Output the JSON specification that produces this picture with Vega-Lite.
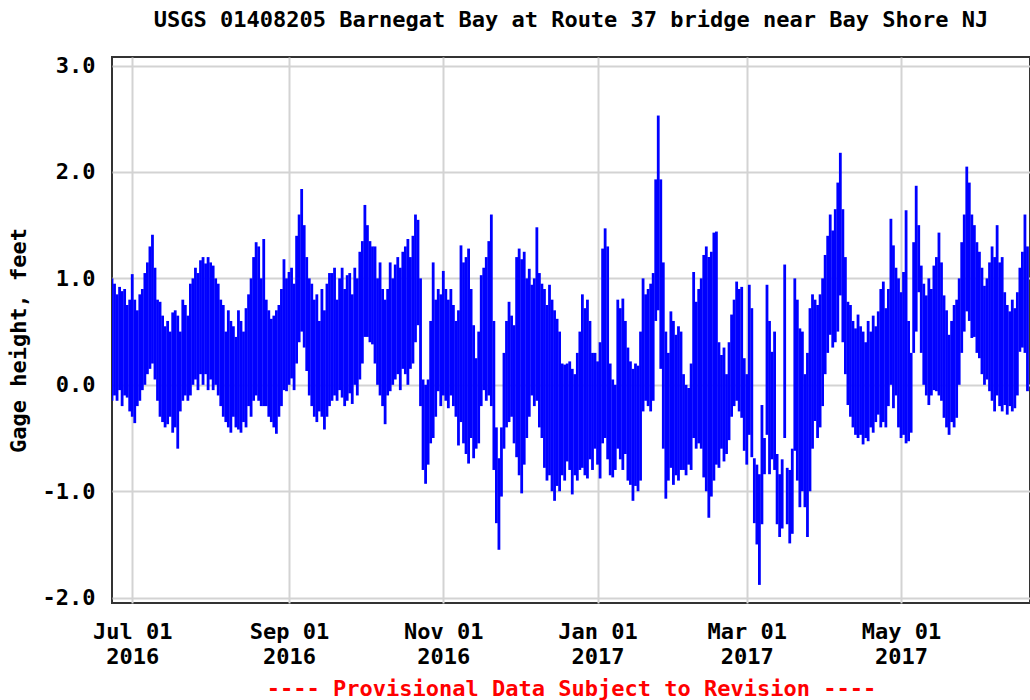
{
  "$schema": "https://vega.github.io/schema/vega-lite/v6.json",
  "width": 918,
  "height": 546,
  "autosize": "none",
  "padding": {"left": 112, "top": 57, "right": 0, "bottom": 97},
  "background": "white",
  "title": {"text": "USGS 01408205 Barnegat Bay at Route 37 bridge near Bay Shore NJ", "font": "DejaVu Sans Mono", "fontSize": 22, "fontWeight": "bold", "color": "black", "anchor": "middle", "baseline": "alphabetic", "offset": 6},
  "config": {"view": {"stroke": "#333333", "strokeWidth": 2}},
  "data": {"values": [
    {"t":"2016-06-23","hi":1.0,"lo":-0.15},{"t":"2016-06-24","hi":0.95,"lo":-0.1},{"t":"2016-06-25","hi":0.85,"lo":-0.15},{"t":"2016-06-26","hi":0.92,"lo":-0.05},{"t":"2016-06-27","hi":0.88,"lo":-0.2},{"t":"2016-06-28","hi":0.9,"lo":-0.1},{"t":"2016-06-29","hi":0.75,"lo":-0.12},{"t":"2016-06-30","hi":0.8,"lo":-0.25},
    {"t":"2016-07-01","hi":1.04,"lo":-0.3},{"t":"2016-07-02","hi":0.8,"lo":-0.36},{"t":"2016-07-03","hi":0.7,"lo":-0.2},{"t":"2016-07-04","hi":0.85,"lo":-0.15},{"t":"2016-07-05","hi":0.9,"lo":-0.05},{"t":"2016-07-06","hi":1.05,"lo":0.0},{"t":"2016-07-07","hi":1.15,"lo":0.1},{"t":"2016-07-08","hi":1.3,"lo":0.15},{"t":"2016-07-09","hi":1.41,"lo":0.2},{"t":"2016-07-10","hi":1.1,"lo":0.05},
    {"t":"2016-07-11","hi":0.8,"lo":-0.15},{"t":"2016-07-12","hi":0.78,"lo":-0.3},{"t":"2016-07-13","hi":0.65,"lo":-0.35},{"t":"2016-07-14","hi":0.55,"lo":-0.4},{"t":"2016-07-15","hi":0.6,"lo":-0.37},{"t":"2016-07-16","hi":0.5,"lo":-0.3},{"t":"2016-07-17","hi":0.68,"lo":-0.45},{"t":"2016-07-18","hi":0.7,"lo":-0.4},{"t":"2016-07-19","hi":0.65,"lo":-0.6},{"t":"2016-07-20","hi":0.5,"lo":-0.25},
    {"t":"2016-07-21","hi":0.8,"lo":-0.15},{"t":"2016-07-22","hi":0.75,"lo":-0.1},{"t":"2016-07-23","hi":0.65,"lo":-0.15},{"t":"2016-07-24","hi":0.95,"lo":-0.1},{"t":"2016-07-25","hi":1.0,"lo":0.0},{"t":"2016-07-26","hi":1.1,"lo":0.05},{"t":"2016-07-27","hi":1.05,"lo":-0.05},{"t":"2016-07-28","hi":1.17,"lo":0.1},{"t":"2016-07-29","hi":1.2,"lo":0.0},{"t":"2016-07-30","hi":1.14,"lo":0.1},{"t":"2016-07-31","hi":1.2,"lo":-0.05},
    {"t":"2016-08-01","hi":1.15,"lo":0.05},{"t":"2016-08-02","hi":1.12,"lo":-0.05},{"t":"2016-08-03","hi":1.0,"lo":0.0},{"t":"2016-08-04","hi":0.95,"lo":-0.1},{"t":"2016-08-05","hi":0.8,"lo":-0.2},{"t":"2016-08-06","hi":0.75,"lo":-0.3},{"t":"2016-08-07","hi":0.5,"lo":-0.35},{"t":"2016-08-08","hi":0.7,"lo":-0.4},{"t":"2016-08-09","hi":0.6,"lo":-0.45},{"t":"2016-08-10","hi":0.55,"lo":-0.3},
    {"t":"2016-08-11","hi":0.45,"lo":-0.4},{"t":"2016-08-12","hi":0.7,"lo":-0.42},{"t":"2016-08-13","hi":0.6,"lo":-0.45},{"t":"2016-08-14","hi":0.5,"lo":-0.35},{"t":"2016-08-15","hi":0.72,"lo":-0.4},{"t":"2016-08-16","hi":0.85,"lo":-0.2},{"t":"2016-08-17","hi":1.0,"lo":-0.3},{"t":"2016-08-18","hi":1.2,"lo":-0.15},{"t":"2016-08-19","hi":1.34,"lo":-0.1},{"t":"2016-08-20","hi":1.3,"lo":-0.15},
    {"t":"2016-08-21","hi":1.0,"lo":-0.2},{"t":"2016-08-22","hi":1.37,"lo":-0.2},{"t":"2016-08-23","hi":0.8,"lo":-0.2},{"t":"2016-08-24","hi":0.7,"lo":-0.3},{"t":"2016-08-25","hi":0.62,"lo":-0.35},{"t":"2016-08-26","hi":0.65,"lo":-0.4},{"t":"2016-08-27","hi":0.7,"lo":-0.46},{"t":"2016-08-28","hi":0.75,"lo":-0.3},{"t":"2016-08-29","hi":0.9,"lo":-0.2},{"t":"2016-08-30","hi":1.18,"lo":-0.05},{"t":"2016-08-31","hi":1.0,"lo":-0.06},
    {"t":"2016-09-01","hi":1.06,"lo":0.0},{"t":"2016-09-02","hi":1.1,"lo":0.06},{"t":"2016-09-03","hi":0.95,"lo":-0.05},{"t":"2016-09-04","hi":1.4,"lo":0.2},{"t":"2016-09-05","hi":1.6,"lo":0.4},{"t":"2016-09-06","hi":1.84,"lo":0.5},{"t":"2016-09-07","hi":1.5,"lo":0.35},{"t":"2016-09-08","hi":1.2,"lo":0.13},{"t":"2016-09-09","hi":1.0,"lo":-0.1},{"t":"2016-09-10","hi":0.95,"lo":-0.2},
    {"t":"2016-09-11","hi":0.8,"lo":-0.3},{"t":"2016-09-12","hi":0.85,"lo":-0.35},{"t":"2016-09-13","hi":0.6,"lo":-0.25},{"t":"2016-09-14","hi":0.9,"lo":-0.3},{"t":"2016-09-15","hi":0.7,"lo":-0.42},{"t":"2016-09-16","hi":0.95,"lo":-0.3},{"t":"2016-09-17","hi":1.05,"lo":-0.2},{"t":"2016-09-18","hi":1.05,"lo":-0.15},{"t":"2016-09-19","hi":1.1,"lo":-0.1},{"t":"2016-09-20","hi":0.8,"lo":-0.15},
    {"t":"2016-09-21","hi":1.0,"lo":-0.05},{"t":"2016-09-22","hi":1.1,"lo":-0.12},{"t":"2016-09-23","hi":0.9,"lo":-0.2},{"t":"2016-09-24","hi":1.03,"lo":-0.15},{"t":"2016-09-25","hi":1.05,"lo":-0.08},{"t":"2016-09-26","hi":0.85,"lo":-0.18},{"t":"2016-09-27","hi":1.1,"lo":0.0},{"t":"2016-09-28","hi":1.0,"lo":-0.1},{"t":"2016-09-29","hi":1.25,"lo":0.05},{"t":"2016-09-30","hi":1.35,"lo":0.2},
    {"t":"2016-10-01","hi":1.69,"lo":0.45},{"t":"2016-10-02","hi":1.5,"lo":0.45},{"t":"2016-10-03","hi":1.35,"lo":0.4},{"t":"2016-10-04","hi":1.3,"lo":0.38},{"t":"2016-10-05","hi":1.3,"lo":0.2},{"t":"2016-10-06","hi":1.0,"lo":0.0},{"t":"2016-10-07","hi":1.15,"lo":-0.1},{"t":"2016-10-08","hi":0.9,"lo":-0.2},{"t":"2016-10-09","hi":0.8,"lo":-0.37},{"t":"2016-10-10","hi":0.9,"lo":-0.1},
    {"t":"2016-10-11","hi":1.15,"lo":-0.06},{"t":"2016-10-12","hi":1.0,"lo":0.0},{"t":"2016-10-13","hi":1.13,"lo":0.05},{"t":"2016-10-14","hi":1.2,"lo":0.1},{"t":"2016-10-15","hi":1.1,"lo":-0.05},{"t":"2016-10-16","hi":1.25,"lo":0.15},{"t":"2016-10-17","hi":1.3,"lo":0.1},{"t":"2016-10-18","hi":1.37,"lo":0.0},{"t":"2016-10-19","hi":1.2,"lo":0.15},{"t":"2016-10-20","hi":1.4,"lo":0.2},
    {"t":"2016-10-21","hi":1.6,"lo":0.4},{"t":"2016-10-22","hi":1.55,"lo":0.56},{"t":"2016-10-23","hi":1.0,"lo":-0.2},{"t":"2016-10-24","hi":0.05,"lo":-0.8},{"t":"2016-10-25","hi":0.0,"lo":-0.93},{"t":"2016-10-26","hi":0.05,"lo":-0.75},{"t":"2016-10-27","hi":0.6,"lo":-0.55},{"t":"2016-10-28","hi":1.15,"lo":-0.5},{"t":"2016-10-29","hi":0.8,"lo":-0.3},{"t":"2016-10-30","hi":0.9,"lo":-0.06},{"t":"2016-10-31","hi":0.85,"lo":-0.2},
    {"t":"2016-11-01","hi":1.07,"lo":-0.1},{"t":"2016-11-02","hi":0.9,"lo":-0.15},{"t":"2016-11-03","hi":0.8,"lo":-0.22},{"t":"2016-11-04","hi":0.9,"lo":-0.1},{"t":"2016-11-05","hi":0.75,"lo":-0.2},{"t":"2016-11-06","hi":0.6,"lo":-0.3},{"t":"2016-11-07","hi":0.7,"lo":-0.57},{"t":"2016-11-08","hi":1.31,"lo":-0.35},{"t":"2016-11-09","hi":1.15,"lo":-0.55},{"t":"2016-11-10","hi":1.2,"lo":-0.65},
    {"t":"2016-11-11","hi":1.28,"lo":-0.74},{"t":"2016-11-12","hi":0.9,"lo":-0.5},{"t":"2016-11-13","hi":0.56,"lo":-0.69},{"t":"2016-11-14","hi":0.25,"lo":-0.6},{"t":"2016-11-15","hi":0.5,"lo":-0.55},{"t":"2016-11-16","hi":1.03,"lo":-0.2},{"t":"2016-11-17","hi":1.1,"lo":-0.05},{"t":"2016-11-18","hi":1.2,"lo":-0.15},{"t":"2016-11-19","hi":1.35,"lo":-0.1},{"t":"2016-11-20","hi":1.6,"lo":-0.2},
    {"t":"2016-11-21","hi":0.6,"lo":-0.8},{"t":"2016-11-22","hi":-0.4,"lo":-1.3},{"t":"2016-11-23","hi":-0.69,"lo":-1.55},{"t":"2016-11-24","hi":-0.4,"lo":-1.05},{"t":"2016-11-25","hi":0.3,"lo":-0.6},{"t":"2016-11-26","hi":0.6,"lo":-0.4},{"t":"2016-11-27","hi":0.78,"lo":-0.35},{"t":"2016-11-28","hi":0.65,"lo":-0.3},{"t":"2016-11-29","hi":0.56,"lo":-0.55},{"t":"2016-11-30","hi":1.2,"lo":-0.68},
    {"t":"2016-12-01","hi":1.28,"lo":-0.85},{"t":"2016-12-02","hi":1.18,"lo":-1.02},{"t":"2016-12-03","hi":1.25,"lo":-0.75},{"t":"2016-12-04","hi":1.0,"lo":-0.5},{"t":"2016-12-05","hi":1.09,"lo":-0.3},{"t":"2016-12-06","hi":0.94,"lo":-0.1},{"t":"2016-12-07","hi":1.0,"lo":-0.2},{"t":"2016-12-08","hi":1.48,"lo":-0.15},{"t":"2016-12-09","hi":1.05,"lo":-0.4},{"t":"2016-12-10","hi":0.95,"lo":-0.5},
    {"t":"2016-12-11","hi":0.9,"lo":-0.78},{"t":"2016-12-12","hi":0.75,"lo":-0.9},{"t":"2016-12-13","hi":0.94,"lo":-0.85},{"t":"2016-12-14","hi":0.8,"lo":-1.0},{"t":"2016-12-15","hi":0.7,"lo":-1.09},{"t":"2016-12-16","hi":0.62,"lo":-0.95},{"t":"2016-12-17","hi":0.5,"lo":-1.0},{"t":"2016-12-18","hi":0.2,"lo":-0.85},{"t":"2016-12-19","hi":0.19,"lo":-0.9},{"t":"2016-12-20","hi":0.2,"lo":-0.72},
    {"t":"2016-12-21","hi":0.22,"lo":-0.8},{"t":"2016-12-22","hi":0.15,"lo":-1.03},{"t":"2016-12-23","hi":0.1,"lo":-0.85},{"t":"2016-12-24","hi":0.3,"lo":-0.9},{"t":"2016-12-25","hi":0.5,"lo":-0.8},{"t":"2016-12-26","hi":0.85,"lo":-0.78},{"t":"2016-12-27","hi":0.72,"lo":-0.85},{"t":"2016-12-28","hi":0.8,"lo":-0.88},{"t":"2016-12-29","hi":0.6,"lo":-0.7},{"t":"2016-12-30","hi":0.3,"lo":-0.8},{"t":"2016-12-31","hi":0.3,"lo":-0.6},
    {"t":"2017-01-01","hi":0.22,"lo":-0.75},{"t":"2017-01-02","hi":0.4,"lo":-0.88},{"t":"2017-01-03","hi":1.28,"lo":-0.55},{"t":"2017-01-04","hi":1.47,"lo":-0.5},{"t":"2017-01-05","hi":1.3,"lo":-0.7},{"t":"2017-01-06","hi":0.2,"lo":-0.85},{"t":"2017-01-07","hi":0.05,"lo":-0.87},{"t":"2017-01-08","hi":0.0,"lo":-0.8},{"t":"2017-01-09","hi":0.8,"lo":-0.6},{"t":"2017-01-10","hi":0.72,"lo":-0.7},
    {"t":"2017-01-11","hi":0.81,"lo":-0.8},{"t":"2017-01-12","hi":0.6,"lo":-0.65},{"t":"2017-01-13","hi":0.35,"lo":-0.9},{"t":"2017-01-14","hi":0.22,"lo":-0.94},{"t":"2017-01-15","hi":0.15,"lo":-1.09},{"t":"2017-01-16","hi":0.2,"lo":-0.95},{"t":"2017-01-17","hi":0.18,"lo":-1.0},{"t":"2017-01-18","hi":0.5,"lo":-0.9},{"t":"2017-01-19","hi":1.0,"lo":-0.25},{"t":"2017-01-20","hi":0.85,"lo":-0.15},
    {"t":"2017-01-21","hi":0.9,"lo":-0.2},{"t":"2017-01-22","hi":0.95,"lo":-0.25},{"t":"2017-01-23","hi":1.05,"lo":-0.15},{"t":"2017-01-24","hi":1.93,"lo":0.6},{"t":"2017-01-25","hi":2.53,"lo":0.7},{"t":"2017-01-26","hi":1.93,"lo":0.15},{"t":"2017-01-27","hi":1.15,"lo":-0.6},{"t":"2017-01-28","hi":0.5,"lo":-1.07},{"t":"2017-01-29","hi":0.3,"lo":-0.9},{"t":"2017-01-30","hi":0.69,"lo":-0.78},{"t":"2017-01-31","hi":0.6,"lo":-0.94},
    {"t":"2017-02-01","hi":0.47,"lo":-0.85},{"t":"2017-02-02","hi":0.55,"lo":-0.9},{"t":"2017-02-03","hi":0.5,"lo":-0.8},{"t":"2017-02-04","hi":0.1,"lo":-0.8},{"t":"2017-02-05","hi":0.0,"lo":-0.85},{"t":"2017-02-06","hi":-0.03,"lo":-0.75},{"t":"2017-02-07","hi":0.2,"lo":-0.8},{"t":"2017-02-08","hi":1.06,"lo":-0.5},{"t":"2017-02-09","hi":0.78,"lo":-0.6},{"t":"2017-02-10","hi":0.9,"lo":-0.55},
    {"t":"2017-02-11","hi":1.0,"lo":-0.6},{"t":"2017-02-12","hi":1.22,"lo":-0.87},{"t":"2017-02-13","hi":1.3,"lo":-1.0},{"t":"2017-02-14","hi":1.2,"lo":-1.25},{"t":"2017-02-15","hi":1.25,"lo":-1.05},{"t":"2017-02-16","hi":1.43,"lo":-0.9},{"t":"2017-02-17","hi":1.44,"lo":-0.75},{"t":"2017-02-18","hi":0.4,"lo":-0.78},{"t":"2017-02-19","hi":0.28,"lo":-0.6},{"t":"2017-02-20","hi":0.35,"lo":-0.72},
    {"t":"2017-02-21","hi":0.1,"lo":-0.65},{"t":"2017-02-22","hi":0.4,"lo":-0.52},{"t":"2017-02-23","hi":0.66,"lo":-0.3},{"t":"2017-02-24","hi":0.8,"lo":-0.2},{"t":"2017-02-25","hi":0.97,"lo":-0.15},{"t":"2017-02-26","hi":0.9,"lo":-0.25},{"t":"2017-02-27","hi":0.92,"lo":-0.31},{"t":"2017-02-28","hi":0.25,"lo":-0.62},
    {"t":"2017-03-01","hi":0.1,"lo":-0.75},{"t":"2017-03-02","hi":0.94,"lo":-0.47},{"t":"2017-03-03","hi":0.72,"lo":-0.68},{"t":"2017-03-04","hi":-0.69,"lo":-1.3},{"t":"2017-03-05","hi":-0.75,"lo":-1.5},{"t":"2017-03-06","hi":-0.84,"lo":-1.88},{"t":"2017-03-07","hi":-0.19,"lo":-1.31},{"t":"2017-03-08","hi":-0.5,"lo":-0.84},{"t":"2017-03-09","hi":0.94,"lo":-0.47},{"t":"2017-03-10","hi":0.6,"lo":-0.84},
    {"t":"2017-03-11","hi":0.31,"lo":-0.7},{"t":"2017-03-12","hi":0.5,"lo":-0.8},{"t":"2017-03-13","hi":-0.65,"lo":-1.31},{"t":"2017-03-14","hi":-0.84,"lo":-1.43},{"t":"2017-03-15","hi":-0.7,"lo":-1.35},{"t":"2017-03-16","hi":1.13,"lo":-0.5},{"t":"2017-03-17","hi":-0.78,"lo":-1.31},{"t":"2017-03-18","hi":-0.8,"lo":-1.49},{"t":"2017-03-19","hi":-0.6,"lo":-1.4},{"t":"2017-03-20","hi":1.0,"lo":-0.62},
    {"t":"2017-03-21","hi":0.8,"lo":-0.9},{"t":"2017-03-22","hi":0.53,"lo":-1.15},{"t":"2017-03-23","hi":0.5,"lo":-1.0},{"t":"2017-03-24","hi":0.1,"lo":-1.15},{"t":"2017-03-25","hi":0.3,"lo":-1.43},{"t":"2017-03-26","hi":0.72,"lo":-1.0},{"t":"2017-03-27","hi":0.85,"lo":-0.6},{"t":"2017-03-28","hi":0.8,"lo":-0.34},{"t":"2017-03-29","hi":0.75,"lo":-0.5},{"t":"2017-03-30","hi":0.85,"lo":-0.4},{"t":"2017-03-31","hi":1.0,"lo":-0.2},
    {"t":"2017-04-01","hi":1.22,"lo":0.1},{"t":"2017-04-02","hi":1.4,"lo":0.3},{"t":"2017-04-03","hi":1.6,"lo":0.47},{"t":"2017-04-04","hi":1.45,"lo":0.35},{"t":"2017-04-05","hi":1.65,"lo":0.4},{"t":"2017-04-06","hi":1.9,"lo":0.5},{"t":"2017-04-07","hi":2.18,"lo":0.84},{"t":"2017-04-08","hi":1.65,"lo":0.4},{"t":"2017-04-09","hi":1.2,"lo":0.1},{"t":"2017-04-10","hi":0.78,"lo":-0.19},
    {"t":"2017-04-11","hi":0.75,"lo":-0.3},{"t":"2017-04-12","hi":0.6,"lo":-0.4},{"t":"2017-04-13","hi":0.53,"lo":-0.47},{"t":"2017-04-14","hi":0.66,"lo":-0.5},{"t":"2017-04-15","hi":0.55,"lo":-0.47},{"t":"2017-04-16","hi":0.5,"lo":-0.56},{"t":"2017-04-17","hi":0.4,"lo":-0.5},{"t":"2017-04-18","hi":0.6,"lo":-0.53},{"t":"2017-04-19","hi":0.5,"lo":-0.4},{"t":"2017-04-20","hi":0.65,"lo":-0.45},
    {"t":"2017-04-21","hi":0.55,"lo":-0.35},{"t":"2017-04-22","hi":0.69,"lo":-0.28},{"t":"2017-04-23","hi":0.9,"lo":-0.4},{"t":"2017-04-24","hi":0.97,"lo":-0.35},{"t":"2017-04-25","hi":0.72,"lo":-0.4},{"t":"2017-04-26","hi":0.9,"lo":-0.2},{"t":"2017-04-27","hi":1.56,"lo":0.0},{"t":"2017-04-28","hi":1.31,"lo":-0.22},{"t":"2017-04-29","hi":1.1,"lo":-0.1},{"t":"2017-04-30","hi":1.0,"lo":-0.4},
    {"t":"2017-05-01","hi":0.87,"lo":-0.5},{"t":"2017-05-02","hi":1.06,"lo":-0.47},{"t":"2017-05-03","hi":1.64,"lo":-0.55},{"t":"2017-05-04","hi":0.6,"lo":-0.53},{"t":"2017-05-05","hi":0.3,"lo":-0.45},{"t":"2017-05-06","hi":1.34,"lo":0.3},{"t":"2017-05-07","hi":1.87,"lo":0.5},{"t":"2017-05-08","hi":1.5,"lo":0.87},{"t":"2017-05-09","hi":1.12,"lo":0.3},{"t":"2017-05-10","hi":0.95,"lo":0.0},
    {"t":"2017-05-11","hi":0.84,"lo":-0.1},{"t":"2017-05-12","hi":1.0,"lo":-0.19},{"t":"2017-05-13","hi":0.9,"lo":-0.1},{"t":"2017-05-14","hi":1.12,"lo":-0.05},{"t":"2017-05-15","hi":1.2,"lo":-0.06},{"t":"2017-05-16","hi":1.43,"lo":-0.1},{"t":"2017-05-17","hi":1.15,"lo":-0.15},{"t":"2017-05-18","hi":0.84,"lo":-0.31},{"t":"2017-05-19","hi":0.7,"lo":-0.4},{"t":"2017-05-20","hi":0.47,"lo":-0.47},
    {"t":"2017-05-21","hi":0.6,"lo":-0.35},{"t":"2017-05-22","hi":0.75,"lo":-0.4},{"t":"2017-05-23","hi":0.8,"lo":-0.31},{"t":"2017-05-24","hi":1.0,"lo":0.0},{"t":"2017-05-25","hi":1.34,"lo":0.3},{"t":"2017-05-26","hi":1.6,"lo":0.5},{"t":"2017-05-27","hi":2.05,"lo":0.69},{"t":"2017-05-28","hi":1.9,"lo":0.6},{"t":"2017-05-29","hi":1.6,"lo":0.44},{"t":"2017-05-30","hi":1.5,"lo":0.45},{"t":"2017-05-31","hi":1.34,"lo":0.3},
    {"t":"2017-06-01","hi":1.25,"lo":0.25},{"t":"2017-06-02","hi":1.1,"lo":0.1},{"t":"2017-06-03","hi":0.93,"lo":0.0},{"t":"2017-06-04","hi":1.0,"lo":0.05},{"t":"2017-06-05","hi":1.15,"lo":-0.06},{"t":"2017-06-06","hi":1.3,"lo":-0.15},{"t":"2017-06-07","hi":1.2,"lo":-0.25},{"t":"2017-06-08","hi":1.5,"lo":-0.1},{"t":"2017-06-09","hi":1.15,"lo":-0.2},{"t":"2017-06-10","hi":1.2,"lo":-0.25},
    {"t":"2017-06-11","hi":0.87,"lo":-0.19},{"t":"2017-06-12","hi":0.75,"lo":-0.28},{"t":"2017-06-13","hi":0.69,"lo":-0.2},{"t":"2017-06-14","hi":0.8,"lo":-0.25},{"t":"2017-06-15","hi":0.72,"lo":-0.22},{"t":"2017-06-16","hi":0.87,"lo":-0.1},{"t":"2017-06-17","hi":1.1,"lo":0.31},{"t":"2017-06-18","hi":1.25,"lo":0.35},{"t":"2017-06-19","hi":1.6,"lo":0.3},{"t":"2017-06-20","hi":1.3,"lo":-0.06}
  ]},
  "mark": {"type": "rule", "color": "#0000ff", "strokeWidth": 2.8, "clip": true},
  "encoding": {
    "x": {
      "field": "t", "type": "temporal",
      "scale": {"type": "utc", "domain": [{"year": 2016, "month": "jun", "date": 23, "utc": true}, {"year": 2017, "month": "jun", "date": 21, "utc": true}]},
      "axis": {
        "values": [
          {"year": 2016, "month": "jul", "date": 1, "utc": true},
          {"year": 2016, "month": "sep", "date": 1, "utc": true},
          {"year": 2016, "month": "nov", "date": 1, "utc": true},
          {"year": 2017, "month": "jan", "date": 1, "utc": true},
          {"year": 2017, "month": "mar", "date": 1, "utc": true},
          {"year": 2017, "month": "may", "date": 1, "utc": true}
        ],
        "labelExpr": "[utcFormat(datum.value, '%b %d'), utcFormat(datum.value, '%Y')]",
        "labelFont": "DejaVu Sans Mono", "labelFontSize": 22, "labelFontWeight": "bold", "labelColor": "black",
        "labelLineHeight": 25, "labelPadding": 18, "labelFlush": false, "labelOverlap": false, "labelBound": false,
        "ticks": false, "domain": false,
        "grid": true, "gridColor": "#d3d3d3", "gridWidth": 2,
        "title": "---- Provisional Data Subject to Revision ----",
        "titleFont": "DejaVu Sans Mono", "titleFontSize": 22, "titleFontWeight": "bold", "titleColor": "#ff0000", "titlePadding": 11
      }
    },
    "y": {
      "field": "lo", "type": "quantitative",
      "scale": {"domain": [-2.05, 3.08], "nice": false, "zero": false},
      "axis": {
        "values": [-2, -1, 0, 1, 2, 3],
        "labelExpr": "replace(format(datum.value, '.1f'), '\u2212', '-')",
        "labelFont": "DejaVu Sans Mono", "labelFontSize": 22, "labelFontWeight": "bold", "labelColor": "black",
        "labelPadding": 17, "ticks": false, "domain": false,
        "grid": true, "gridColor": "#d3d3d3", "gridWidth": 2,
        "title": "Gage height, feet",
        "titleFont": "DejaVu Sans Mono", "titleFontSize": 22, "titleFontWeight": "bold", "titleColor": "black", "titlePadding": 12, "titleY": 283
      }
    },
    "y2": {"field": "hi"}
  }
}
